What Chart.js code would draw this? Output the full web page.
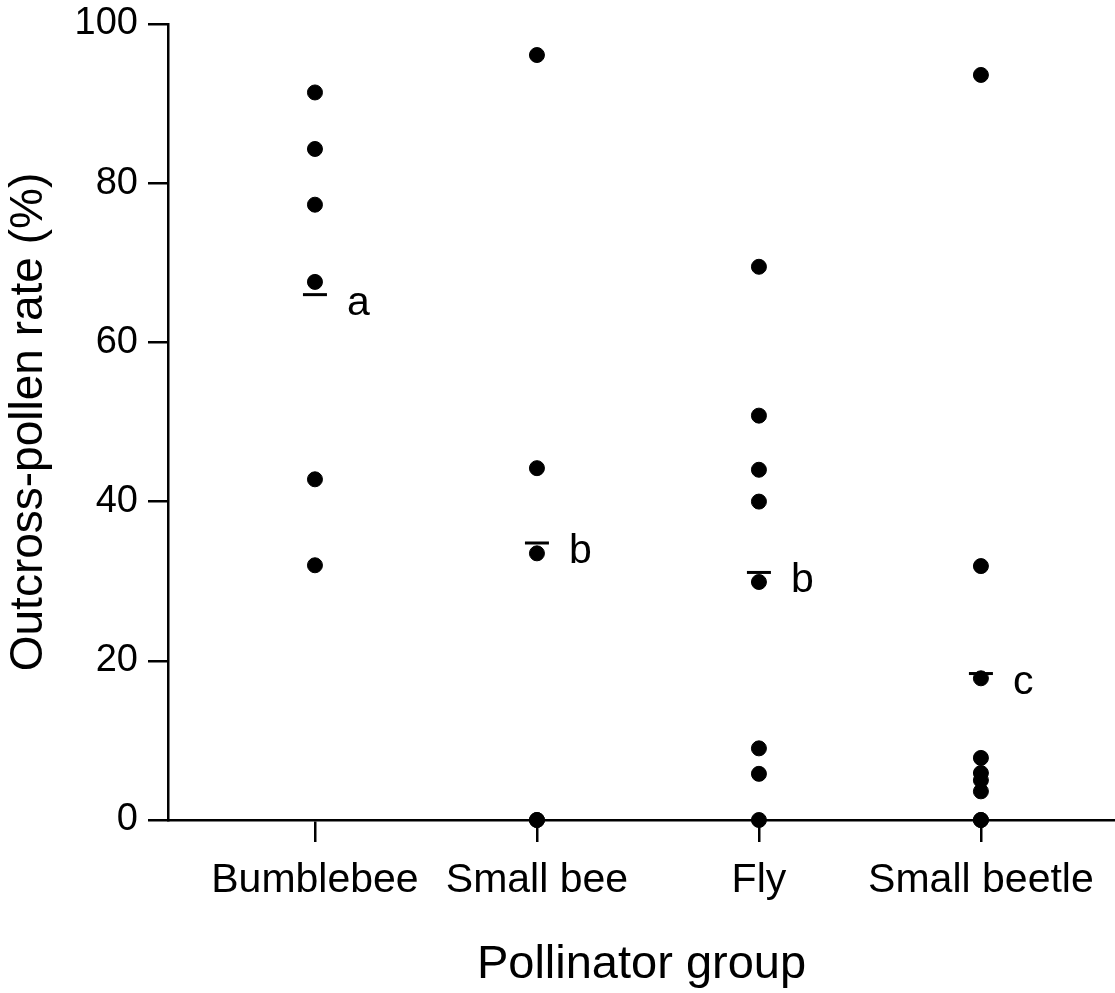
<!DOCTYPE html>
<html>
<head>
<meta charset="utf-8">
<script src="https://cdn.jsdelivr.net/npm/chart.js@4.4.1/dist/chart.umd.min.js"></script>
<style>
    html, body { margin: 0; padding: 0; background: #fff; overflow: hidden; }
    #wrap { width: 1115px; height: 993px; }
</style>
</head>
<body>
<div id="wrap"><canvas id="chart"></canvas></div>
<script>
// pollinator groups along the x axis
const groups = ['Bumblebee', 'Small bee', 'Fly', 'Small beetle'];

// outcross-pollen rate (%) per visit, one list per group
const bumblebee = [91.4, 84.3, 77.3, 67.6, 42.8, 32.0];
const smallBee = [96.1, 44.2, 33.5, 0, 0];
const fly = [69.5, 50.8, 44.0, 40.0, 29.9, 9.0, 5.8, 0];
const smallBeetle = [93.6, 31.9, 17.8, 7.8, 5.9, 5.0, 3.6, 0, 0];

// group means and significance letters
const means = [66.0, 34.8, 31.1, 18.4];
const letters = ['a', 'b', 'b', 'c'];

const yTicks = [0, 20, 40, 60, 80, 100];

const series = [bumblebee, smallBee, fly, smallBeetle];
const points = [];
series.forEach((vals, i) => {
    vals.forEach(v => points.push({ x: i + 1, y: v }));
});
const meanPoints = means.map((m, i) => ({ x: i + 1, y: m }));

const FONT = 'Liberation Sans, Arial, sans-serif';

const letterPlugin = {
    id: 'letters',
    afterDatasetsDraw(chart) {
        const ctx = chart.ctx;
        const xs = chart.scales.x, ys = chart.scales.y;
        ctx.save();
        ctx.fillStyle = '#000';
        ctx.font = '41px ' + FONT;
        ctx.textAlign = 'left';
        ctx.textBaseline = 'alphabetic';
        letters.forEach((l, i) => {
            ctx.fillText(l, xs.getPixelForValue(i + 1) + 32, ys.getPixelForValue(means[i]) + 20);
        });
        ctx.restore();
    }
};

new Chart(document.getElementById('chart'), {
    type: 'scatter',
    data: {
        datasets: [{
            data: points,
            backgroundColor: '#000',
            borderColor: '#000',
            pointRadius: 7.5,
            pointHoverRadius: 7.5,
            clip: false
        }, {
            data: meanPoints,
            pointStyle: 'line',
            borderColor: '#000',
            borderWidth: 3,
            pointRadius: 12,
            pointHoverRadius: 12,
            clip: false
        }]
    },
    options: {
        responsive: true,
        maintainAspectRatio: false,
        animation: false,
        layout: { autoPadding: false, padding: { top: 24, right: 0, left: 0, bottom: 0 } },
        plugins: {
            legend: { display: false },
            tooltip: { enabled: false }
        },
        scales: {
            x: {
                type: 'linear',
                min: 0.338,
                max: 4.604,
                afterBuildTicks: s => { s.ticks = groups.map((g, i) => ({ value: i + 1 })); },
                afterFit: s => { s.height = 173; s.paddingLeft = 0; s.paddingRight = 0; },
                ticks: {
                    color: '#000',
                    font: { family: FONT, size: 41 },
                    padding: 14,
                    maxRotation: 0,
                    callback: (v) => groups[v - 1]
                },
                grid: {
                    display: true,
                    drawOnChartArea: false,
                    color: '#000',
                    lineWidth: 2.5,
                    tickLength: 22
                },
                border: { display: true, color: '#000', width: 2.5 },
                title: {
                    display: true,
                    text: 'Pollinator group',
                    color: '#000',
                    font: { family: FONT, size: 47 },
                    padding: { top: 0, bottom: 0 }
                }
            },
            y: {
                min: 0,
                max: 100,
                afterBuildTicks: s => { s.ticks = yTicks.map(v => ({ value: v })); },
                afterFit: s => { s.width = 168; s.paddingTop = 0; s.paddingBottom = 0; },
                ticks: {
                    color: '#000',
                    font: { family: FONT, size: 38 },
                    padding: 10
                },
                grid: {
                    display: true,
                    drawOnChartArea: false,
                    color: '#000',
                    lineWidth: 2.5,
                    tickLength: 20
                },
                border: { display: true, color: '#000', width: 2.5 },
                title: {
                    display: true,
                    text: 'Outcross-pollen rate (%)',
                    color: '#000',
                    font: { family: FONT, size: 46 },
                    padding: { top: 2, bottom: 0 }
                }
            }
        }
    },
    plugins: [letterPlugin]
});
</script>
</body>
</html>
